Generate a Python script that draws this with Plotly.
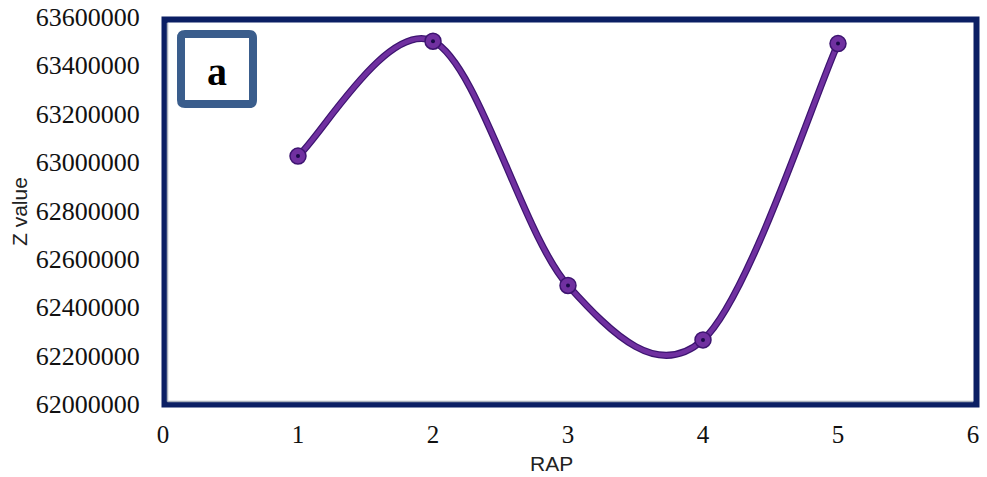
import plotly.graph_objects as go

rap = [1, 2, 3, 4, 5]
z_value = [63025000, 63500000, 62490000, 62265000, 63490000]
x_ticks = [0, 1, 2, 3, 4, 5, 6]
y_ticks = [62000000 + 200000 * i for i in range(9)]

W, H = 987, 477
ML, MR, MT, MB = 163, 14, 17, 73
PW, PH = W - ML - MR, H - MT - MB

def px(x):
    return (x - ML) / PW

def py(y):
    return (H - MB - y) / PH

# smooth (Catmull-Rom / Excel style) curve through the data, as a Bezier path in data coords
def smooth_path(xs, ys):
    pts = list(zip(xs, ys))
    n = len(pts)
    d = f"M {pts[0][0]},{pts[0][1]}"
    for i in range(n - 1):
        p0 = pts[i - 1] if i > 0 else pts[i]
        p1 = pts[i]
        p2 = pts[i + 1]
        p3 = pts[i + 2] if i + 2 < n else pts[i + 1]
        c1 = (p1[0] + (p2[0] - p0[0]) / 6, p1[1] + (p2[1] - p0[1]) / 6)
        c2 = (p2[0] - (p3[0] - p1[0]) / 6, p2[1] - (p3[1] - p1[1]) / 6)
        d += f" C {c1[0]},{c1[1]} {c2[0]},{c2[1]} {p2[0]},{p2[1]}"
    return d

curve = smooth_path(rap, z_value)

fig = go.Figure()
fig.add_trace(go.Scatter(x=rap, y=z_value, mode="markers",
                         marker=dict(size=16, color="#7030A0", line=dict(color="#3d1470", width=1.5)),
                         showlegend=False))
fig.add_trace(go.Scatter(x=rap, y=z_value, mode="markers",
                         marker=dict(size=4, color="#1a0a4a"),
                         hoverinfo="skip", showlegend=False))

shapes = []
shapes.append(dict(type="path", xref="x", yref="y", path=curve,
                   line=dict(color="#3d1470", width=7), layer="below"))
shapes.append(dict(type="path", xref="x", yref="y", path=curve,
                   line=dict(color="#7030A0", width=4.5), layer="below"))
# outer navy frame
shapes.append(dict(type="rect", xref="paper", yref="paper",
                   x0=px(164.5), x1=px(976.5), y0=py(404.5), y1=py(19.5),
                   line=dict(color="#0b1f64", width=6), layer="above"))
# inner grey lines left and bottom
shapes.append(dict(type="line", xref="paper", yref="paper",
                   x0=px(167.5), x1=px(167.5), y0=py(401.5), y1=py(23),
                   line=dict(color="#a9b0bb", width=1.5), layer="above"))
shapes.append(dict(type="line", xref="paper", yref="paper",
                   x0=px(167.5), x1=px(973), y0=py(401.5), y1=py(401.5),
                   line=dict(color="#a9b0bb", width=1.5), layer="above"))
# label box with rounded corners
bx0, bx1, by0, by1, r = 181, 253, 34, 104, 4
path = (f"M {px(bx0 + r)},{py(by0)} L {px(bx1 - r)},{py(by0)} "
        f"Q {px(bx1)},{py(by0)} {px(bx1)},{py(by0 + r)} "
        f"L {px(bx1)},{py(by1 - r)} Q {px(bx1)},{py(by1)} {px(bx1 - r)},{py(by1)} "
        f"L {px(bx0 + r)},{py(by1)} Q {px(bx0)},{py(by1)} {px(bx0)},{py(by1 - r)} "
        f"L {px(bx0)},{py(by0 + r)} Q {px(bx0)},{py(by0)} {px(bx0 + r)},{py(by0)} Z")
shapes.append(dict(type="path", xref="paper", yref="paper", path=path,
                   line=dict(color="#3a5d8c", width=8), fillcolor="white", layer="above"))

annotations = [
    dict(text="<b>a</b>", xref="paper", yref="paper",
         x=px(217), y=py(71), xanchor="center", yanchor="middle", showarrow=False,
         font=dict(family="Liberation Serif", size=40, color="black")),
    dict(text="RAP", xref="paper", yref="paper",
         x=px(551), y=py(463), xanchor="center", yanchor="middle", showarrow=False,
         font=dict(family="Liberation Sans", size=21, color="#222")),
    dict(text="Z value", xref="paper", yref="paper", textangle=-90,
         x=px(19), y=py(212), xanchor="center", yanchor="middle", showarrow=False,
         font=dict(family="Liberation Sans", size=21, color="#222")),
]

fig.update_layout(
    width=W, height=H,
    margin=dict(l=ML, r=MR, t=MT, b=MB),
    paper_bgcolor="white", plot_bgcolor="white",
    shapes=shapes,
    annotations=annotations,
    xaxis=dict(range=[0, 6], tickvals=x_ticks, ticktext=[str(v) for v in x_ticks],
               showgrid=False, zeroline=False, showline=False, automargin=False,
               ticklabeloverflow="allow",
               ticks="outside", ticklen=8, tickcolor="rgba(0,0,0,0)",
               tickfont=dict(family="Liberation Serif", size=25, color="#111")),
    yaxis=dict(range=[62000000, 63600000], tickvals=y_ticks,
               ticktext=[str(v) for v in y_ticks],
               showgrid=False, zeroline=False, showline=False, automargin=False,
               ticklabeloverflow="allow",
               ticks="outside", ticklen=17, tickcolor="rgba(0,0,0,0)",
               tickfont=dict(family="Liberation Serif", size=26, color="#111")),
)

fig.write_html("out.html", config={"displayModeBar": False},
               post_script="document.body.style.margin='0px';")
